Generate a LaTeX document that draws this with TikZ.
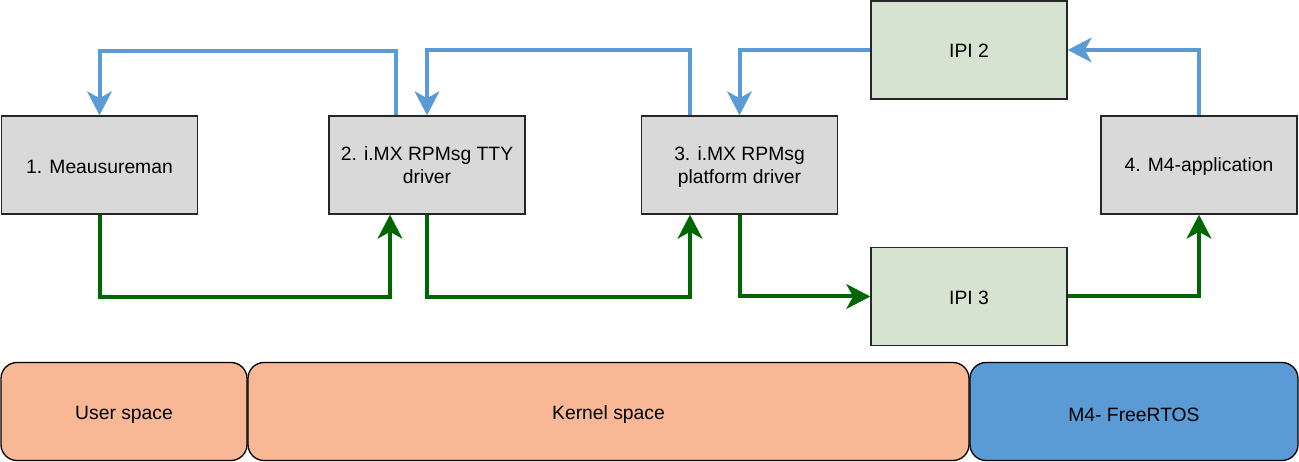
\documentclass[tikz,border=0pt]{standalone}
\usepackage{fontspec}
\setmainfont{Liberation Sans}
\usetikzlibrary{arrows.meta}
\definecolor{bluel}{HTML}{5B9BD5}
\definecolor{greenl}{HTML}{006600}
\definecolor{grayf}{HTML}{D9D9D9}
\definecolor{ipif}{HTML}{D5E3D0}
\definecolor{orangef}{HTML}{F8B896}
\definecolor{bluef}{HTML}{5B9BD5}
\newcommand{\lowr}[2]{\raisebox{-#1}[\height][\depth]{#2}}
\newcommand{\twol}[2]{\begin{tabular}{@{}c@{}}#1\\#2\end{tabular}}
\tikzset{
  proc/.style={draw=black!85, line width=1.6pt, fill=grayf, minimum width=196pt, minimum height=98pt, inner sep=0pt, align=center, font=\fontsize{19.3}{23}\selectfont},
  ipi/.style={proc, fill=ipif},
  layer/.style={draw=black, line width=1.3pt, rounded corners=16pt, minimum height=98pt, inner sep=0pt, font=\fontsize{19.3}{23}\selectfont},
  bluearrow/.style={draw=bluel, line width=4pt, -{Stealth[length=24pt,width=25pt,inset=7pt,line width=0.5pt]}},
  greenarrow/.style={draw=greenl, line width=4pt, -{Stealth[length=24pt,width=25pt,inset=7pt,line width=0.5pt]}},
}
\begin{document}
\begin{tikzpicture}[x=1pt,y=-1pt]
\useasboundingbox (0,0) rectangle (1299,462);
% process boxes
\node[proc] (b1) at (99.5,165) {\lowr{2pt}{1. Meausureman}};
\node[proc] (b2) at (427,165) {\lowr{2pt}{\twol{2. i.MX RPMsg TTY}{driver}}};
\node[proc] (b3) at (739.5,165) {\lowr{2pt}{\twol{3. i.MX RPMsg}{platform driver}}};
\node[proc] (b4) at (1199,165) {\lowr{2pt}{4. M4-application}};
\node[ipi] (i2) at (969,50) {\lowr{1pt}{IPI 2}};
\node[ipi] (i3) at (969,296.5) {\lowr{1pt}{IPI 3}};
% layers
\node[layer, fill=orangef, minimum width=246pt] (us) at (124,411.5) {\lowr{3pt}{User space}};
\node[layer, fill=orangef, minimum width=721pt] (ks) at (608.5,411.5) {\lowr{3pt}{Kernel space}};
\node[layer, fill=bluef, minimum width=328pt] (m4) at (1134,411.5) {\lowr{3pt}{M4- FreeRTOS}};
% blue arrows
\draw[bluearrow] (b2.north -| 396,0) |- (99.5,51.5) -- (b1.north);
\draw[bluearrow] (b3.north -| 690,0) |- (427,50) -- (b2.north);
\draw[bluearrow] (i2.west) -| (b3.north);
\draw[bluearrow] (b4.north) |- (i2.east);
% green arrows
\draw[greenarrow] (b1.south) |- (390,297) -- (b2.south -| 390,0);
\draw[greenarrow] (b2.south) |- (690,297) -- (b3.south -| 690,0);
\draw[greenarrow] (b3.south) |- (i3.west);
\draw[greenarrow] (i3.east) -| (b4.south);
\end{tikzpicture}
\end{document}
